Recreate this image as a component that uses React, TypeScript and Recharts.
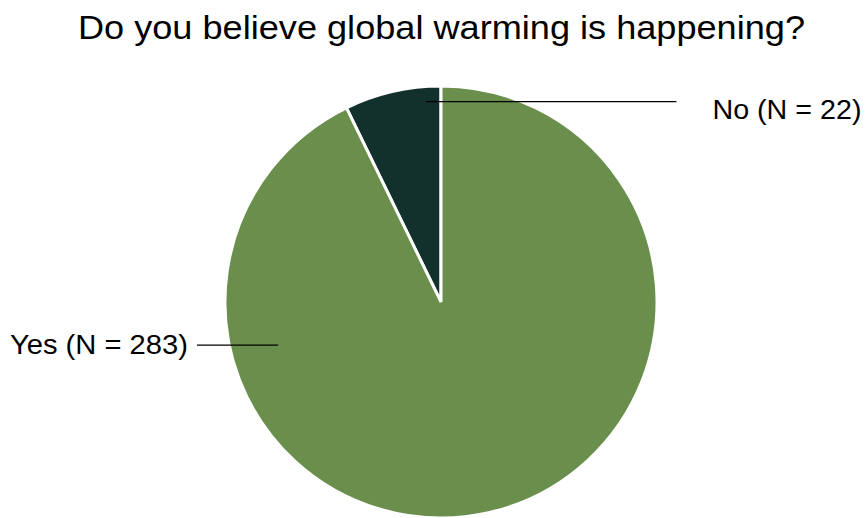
import { PieChart, Pie, Cell } from "recharts";

const ANSWERS = ["No", "Yes"];
const COUNTS = [22, 283];
const COLORS = ["#13312c", "#6a8e4c"];

const data = ANSWERS.map((answer, i) => ({ name: answer, value: COUNTS[i] }));

const FONT = "'Liberation Sans', Arial, sans-serif";
const RAD = Math.PI / 180;

// leader line placement per answer, relative to the pie's centre and radius
const LABEL_SPOTS: Record<
  string,
  { angle: number; depth: number; reach: number; side: 1 | -1; gap: number; drop: number; width: number }
> = {
  No: { angle: 94.3, depth: 0.93, reach: 1.09, side: 1, gap: 36, drop: 17, width: 149 },
  Yes: { angle: 194.8, depth: 0.78, reach: 1.13, side: -1, gap: 9, drop: 9, width: 178 },
};

function renderLabel(props: any) {
  const { cx, cy, outerRadius, name, value } = props;
  const spot = LABEL_SPOTS[name];
  const x0 = cx + outerRadius * spot.depth * Math.cos(spot.angle * RAD);
  const y0 = cy - outerRadius * spot.depth * Math.sin(spot.angle * RAD);
  const x1 = cx + spot.side * outerRadius * spot.reach;
  const tx = x1 + spot.side * spot.gap;
  return (
    <g>
      <line x1={x0} y1={y0} x2={x1} y2={y0} stroke="#000" strokeWidth={1.3} />
      <text
        x={spot.side > 0 ? tx : tx - spot.width}
        y={y0 + spot.drop}
        textAnchor="start"
        fontSize={28}
        fontFamily={FONT}
        fill="#000"
        textLength={spot.width}
        lengthAdjust="spacingAndGlyphs"
      >
        {`${name} (N = ${value})`}
      </text>
    </g>
  );
}

export default function App() {
  return (
    <div style={{ position: "absolute", left: 0, top: 0, width: 866, height: 518, background: "#fff" }}>
      <PieChart width={866} height={518} margin={{ top: 0, right: 0, bottom: 0, left: 0 }}>
        <text
          x={78}
          y={39}
          fontSize={34}
          fontFamily={FONT}
          fill="#000"
          textLength={727}
          lengthAdjust="spacingAndGlyphs"
        >
          Do you believe global warming is happening?
        </text>
        <Pie
          data={data}
          dataKey="value"
          nameKey="name"
          cx={441}
          cy={302}
          outerRadius={216}
          startAngle={90}
          endAngle={450}
          stroke="#fff"
          strokeWidth={3}
          label={renderLabel}
          labelLine={false}
          isAnimationActive={false}
        >
          {data.map((_, i) => (
            <Cell key={i} fill={COLORS[i]} />
          ))}
        </Pie>
      </PieChart>
    </div>
  );
}
